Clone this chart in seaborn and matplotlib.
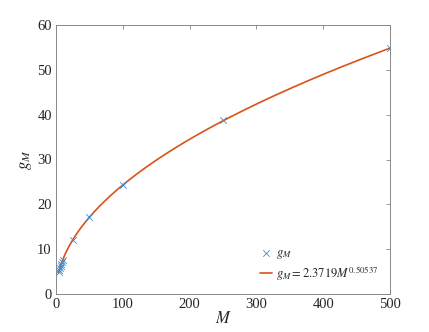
import numpy as np
import pandas as pd
import matplotlib
matplotlib.use("Agg")
import matplotlib.pyplot as plt
import seaborn as sns

# data
M_vals = [4, 5, 6, 7, 8, 9, 10, 25, 50, 100, 250, 500]
g_vals = [4.8, 5.4, 5.9, 6.3, 6.8, 7.2, 7.6, 12.0, 17.2, 24.4, 38.7, 54.9]
coef_a = 2.3719
coef_b = 0.50537
x_ticks = [0, 100, 200, 300, 400, 500]
y_ticks = [0, 10, 20, 30, 40, 50, 60]

sns.set_theme(style="white")
plt.rcParams["font.family"] = ["Liberation Serif", "DejaVu Serif"]
plt.rcParams["mathtext.fontset"] = "stix"

fig = plt.figure(figsize=(4.29, 3.32), dpi=100)
ax = fig.add_axes([56/429, 38/332, (390-56)/429, (294-25)/332])

pts = pd.DataFrame({"M": M_vals, "g": g_vals})
Mfit = np.linspace(min(M_vals), max(M_vals), 400)
fit = pd.DataFrame({"M": Mfit, "g": coef_a * Mfit ** coef_b})

sns.scatterplot(data=pts, x="M", y="g", marker="x", color="#3b8fd0", s=22,
                linewidth=0.6, ax=ax, label=r"$g_M$", zorder=3)
sns.lineplot(data=fit, x="M", y="g", color="#D95319", linewidth=1.2, ax=ax,
             label=r"$g_M = 2.3719M^{0.50537}$", zorder=2)

ax.set_xlim(0, 500)
ax.set_ylim(0, 60)
ax.set_xticks(x_ticks)
ax.set_yticks(y_ticks)
ax.tick_params(direction="in", top=True, right=True, length=3, width=0.6,
               color="#888888", labelsize=10.5, labelcolor="#262626", pad=3)
for s in ax.spines.values():
    s.set_color("#888888")
    s.set_linewidth(0.7)
ax.set_xlabel(r"$M$", fontsize=12, labelpad=0)
ax.set_ylabel(r"$g_M$", fontsize=12, labelpad=2)

leg = ax.legend(loc="lower right", frameon=False, fontsize=9, handlelength=1.0,
                handletextpad=0.3, borderaxespad=0.5, labelspacing=0.2)

fig.savefig("out.png", dpi=100)
